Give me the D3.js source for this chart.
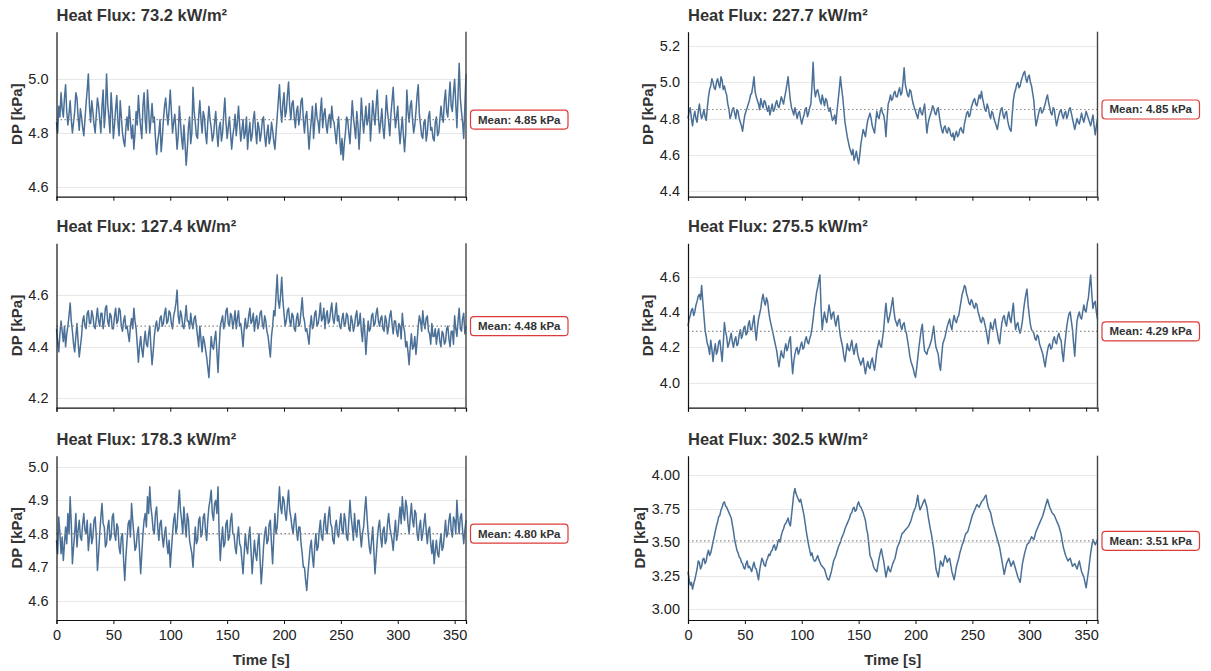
<!DOCTYPE html>
<html>
<head>
<meta charset="utf-8">
<script src="https://cdnjs.cloudflare.com/ajax/libs/d3/7.8.5/d3.min.js"></script>
<style>
  body { margin: 0; background: #fff; }
  svg { display: block; font-family: "Liberation Sans", Arial, sans-serif; }
  .grid line { stroke: #e8e8e8; stroke-width: 1; }
  .title { font-size: 16.5px; font-weight: bold; fill: #333; }
  .axis-label { font-size: 15px; font-weight: bold; fill: #333; }
  .mean-label { font-size: 11.5px; font-weight: bold; fill: #333; }
</style>
</head>
<body>
<div id="chart"></div>
<script>
// heat flux per run [kW/m²] and mean pressure drop [kPa]
const fluxes = [73.2, 127.4, 178.3, 227.7, 275.5, 302.5];
const means = [4.85, 4.48, 4.80, 4.85, 4.29, 3.51];

// DP samples over 0..360 s, one per second
const dp73 = [
  4.84,4.80,4.90,4.86,4.95,4.89,4.86,4.93,4.98,4.88,4.83,4.87,4.92,4.85,4.80,4.84,4.88,4.95,4.93,4.86,
  4.81,4.89,4.86,4.82,4.79,4.85,4.91,4.96,5.02,4.90,4.84,4.92,4.88,4.83,4.80,4.87,4.93,4.90,4.85,4.80,
  4.90,4.96,4.82,4.88,5.02,4.91,4.86,4.80,4.95,4.88,4.78,4.83,4.89,4.94,4.84,4.79,4.92,4.86,4.80,4.77,
  4.75,4.82,4.86,4.81,4.90,4.84,4.78,4.83,4.74,4.80,4.88,4.83,4.94,4.87,4.82,4.78,4.90,4.95,4.85,4.80,
  4.96,4.89,4.80,4.85,4.91,4.84,4.86,4.78,4.72,4.77,4.80,4.85,4.73,4.78,4.85,4.90,4.93,4.87,4.83,4.89,
  4.96,4.88,4.80,4.84,4.87,4.81,4.74,4.79,4.90,4.84,4.78,4.74,4.83,4.76,4.68,4.74,4.82,4.86,4.76,4.80,
  4.97,4.88,4.84,4.79,4.78,4.86,4.92,4.85,4.80,4.88,4.86,4.80,4.76,4.84,4.90,4.85,4.82,4.77,4.79,4.84,
  4.88,4.80,4.75,4.82,4.84,4.77,4.80,4.87,4.93,4.84,4.78,4.82,4.86,4.80,4.74,4.79,4.82,4.87,4.79,4.84,
  4.90,4.83,4.77,4.81,4.85,4.78,4.80,4.86,4.74,4.80,4.84,4.77,4.79,4.85,4.88,4.81,4.76,4.84,4.82,4.77,
  4.80,4.85,4.86,4.79,4.75,4.80,4.83,4.76,4.78,4.84,4.81,4.77,4.74,4.80,4.86,4.92,4.98,4.89,4.84,4.91,
  4.95,4.86,4.88,4.94,4.99,4.90,4.85,4.91,4.92,4.86,4.82,4.88,4.90,4.83,4.86,4.92,4.93,4.85,4.80,4.86,
  4.88,4.81,4.74,4.80,4.85,4.90,4.78,4.84,4.91,4.86,4.84,4.80,4.88,4.93,4.82,4.87,4.89,4.83,4.80,4.85,
  4.87,4.82,4.90,4.85,4.84,4.80,4.76,4.82,4.86,4.78,4.72,4.78,4.70,4.76,4.80,4.86,4.85,4.80,4.76,4.84,
  4.92,4.86,4.82,4.78,4.88,4.83,4.74,4.82,4.93,4.86,4.80,4.85,4.90,4.83,4.85,4.91,4.77,4.84,4.92,4.87,
  4.83,4.90,4.96,4.86,4.80,4.84,4.89,4.82,4.78,4.85,4.94,4.88,4.84,4.79,4.87,4.92,4.97,4.88,4.82,4.86,
  4.90,4.82,4.76,4.81,4.86,4.79,4.73,4.80,4.96,4.88,4.84,4.90,4.92,4.85,4.80,4.83,4.88,4.94,4.98,4.87,
  4.83,4.79,4.78,4.84,4.85,4.77,4.80,4.86,4.88,4.81,4.82,4.78,4.77,4.84,4.86,4.79,4.80,4.85,4.90,4.86,
  4.84,4.92,4.96,4.88,4.86,4.93,4.99,4.90,4.88,4.95,5.00,4.91,4.82,4.94,5.06,4.93,4.88,4.84,4.78,4.90,
  5.02];

const dp127 = [
  4.47,4.42,4.38,4.45,4.50,4.46,4.42,4.48,4.40,4.45,4.48,4.52,4.57,4.50,4.46,4.41,4.38,4.44,4.49,4.42,
  4.36,4.40,4.44,4.50,4.52,4.48,4.47,4.53,4.54,4.49,4.49,4.54,4.52,4.48,4.47,4.51,4.55,4.50,4.48,4.53,
  4.53,4.47,4.50,4.55,4.56,4.50,4.48,4.53,4.52,4.47,4.47,4.52,4.55,4.49,4.50,4.55,4.54,4.48,4.46,4.50,
  4.52,4.47,4.48,4.45,4.42,4.48,4.51,4.47,4.55,4.50,4.47,4.41,4.34,4.40,4.44,4.39,4.36,4.42,4.46,4.41,
  4.40,4.45,4.48,4.40,4.33,4.38,4.44,4.48,4.50,4.46,4.47,4.51,4.52,4.48,4.49,4.53,4.55,4.49,4.50,4.54,
  4.53,4.49,4.47,4.52,4.54,4.57,4.62,4.52,4.49,4.54,4.52,4.48,4.47,4.51,4.56,4.50,4.50,4.47,4.53,4.49,
  4.47,4.51,4.52,4.48,4.44,4.40,4.48,4.43,4.38,4.44,4.42,4.39,4.36,4.32,4.28,4.36,4.44,4.40,4.39,4.43,
  4.46,4.38,4.30,4.40,4.48,4.50,4.52,4.47,4.49,4.54,4.55,4.49,4.48,4.53,4.52,4.47,4.50,4.54,4.47,4.51,
  4.54,4.48,4.49,4.45,4.40,4.47,4.51,4.47,4.48,4.52,4.55,4.49,4.50,4.53,4.46,4.50,4.52,4.47,4.49,4.53,
  4.54,4.49,4.47,4.52,4.50,4.46,4.44,4.40,4.36,4.44,4.48,4.54,4.52,4.60,4.68,4.58,4.55,4.60,4.67,4.58,
  4.53,4.48,4.50,4.54,4.55,4.50,4.48,4.53,4.52,4.47,4.46,4.51,4.53,4.48,4.49,4.54,4.59,4.52,4.50,4.46,
  4.47,4.44,4.41,4.48,4.52,4.47,4.48,4.53,4.54,4.48,4.49,4.52,4.57,4.50,4.51,4.55,4.47,4.52,4.54,4.49,
  4.50,4.54,4.57,4.51,4.49,4.53,4.57,4.50,4.52,4.48,4.47,4.51,4.53,4.48,4.49,4.53,4.52,4.47,4.46,4.52,
  4.50,4.46,4.48,4.52,4.54,4.48,4.49,4.53,4.46,4.42,4.51,4.46,4.37,4.44,4.50,4.46,4.47,4.52,4.53,4.48,
  4.49,4.53,4.55,4.50,4.48,4.51,4.52,4.47,4.46,4.52,4.50,4.45,4.48,4.52,4.54,4.49,4.45,4.50,4.50,4.46,
  4.44,4.49,4.48,4.43,4.53,4.48,4.46,4.40,4.42,4.38,4.33,4.40,4.45,4.39,4.40,4.44,4.37,4.42,4.48,4.52,
  4.50,4.46,4.54,4.49,4.47,4.51,4.52,4.46,4.45,4.41,4.49,4.44,4.44,4.47,4.41,4.45,4.47,4.42,4.40,4.46,
  4.45,4.41,4.42,4.47,4.48,4.43,4.40,4.46,4.46,4.41,4.52,4.47,4.44,4.50,4.55,4.47,4.46,4.51,4.53,4.45,
  4.48];

const dp178 = [
  4.78,4.74,4.85,4.80,4.74,4.79,4.72,4.77,4.82,4.77,4.86,4.80,4.91,4.83,4.71,4.76,4.80,4.86,4.76,4.81,
  4.84,4.79,4.78,4.83,4.86,4.81,4.80,4.84,4.75,4.79,4.83,4.77,4.79,4.84,4.85,4.79,4.69,4.74,4.80,4.85,
  4.89,4.83,4.82,4.76,4.77,4.82,4.84,4.78,4.79,4.85,4.86,4.80,4.78,4.83,4.82,4.76,4.74,4.79,4.80,4.72,
  4.66,4.73,4.78,4.83,4.84,4.79,4.89,4.84,4.80,4.75,4.76,4.80,4.82,4.75,4.68,4.74,4.80,4.84,4.86,4.82,
  4.91,4.86,4.94,4.88,4.85,4.81,4.80,4.86,4.88,4.82,4.78,4.83,4.84,4.79,4.76,4.80,4.82,4.77,4.74,4.78,
  4.70,4.75,4.80,4.84,4.86,4.80,4.82,4.88,4.93,4.87,4.84,4.80,4.88,4.83,4.79,4.86,4.84,4.78,4.76,4.74,
  4.70,4.76,4.82,4.77,4.78,4.84,4.85,4.79,4.80,4.85,4.86,4.81,4.78,4.84,4.88,4.90,4.93,4.86,4.84,4.89,
  4.90,4.86,4.94,4.80,4.72,4.78,4.82,4.76,4.77,4.83,4.84,4.78,4.79,4.84,4.86,4.80,4.80,4.76,4.74,4.79,
  4.82,4.77,4.76,4.72,4.68,4.74,4.80,4.76,4.74,4.79,4.82,4.75,4.68,4.73,4.78,4.74,4.72,4.77,4.80,4.72,
  4.65,4.70,4.76,4.80,4.82,4.77,4.78,4.83,4.84,4.77,4.71,4.79,4.86,4.80,4.82,4.88,4.94,4.88,4.86,4.91,
  4.90,4.86,4.84,4.89,4.93,4.87,4.85,4.82,4.80,4.84,4.86,4.81,4.78,4.82,4.82,4.77,4.74,4.70,4.70,4.66,
  4.63,4.68,4.72,4.76,4.78,4.73,4.70,4.76,4.80,4.75,4.76,4.81,4.84,4.79,4.78,4.83,4.86,4.81,4.80,4.85,
  4.88,4.83,4.82,4.78,4.77,4.82,4.84,4.80,4.79,4.83,4.86,4.81,4.80,4.86,4.84,4.79,4.78,4.84,4.90,4.85,
  4.82,4.78,4.86,4.81,4.79,4.84,4.84,4.80,4.76,4.80,4.82,4.87,4.91,4.85,4.80,4.76,4.74,4.78,4.82,4.75,
  4.68,4.73,4.78,4.82,4.84,4.79,4.76,4.81,4.82,4.77,4.78,4.83,4.86,4.82,4.80,4.78,4.75,4.80,4.84,4.78,
  4.80,4.84,4.88,4.83,4.91,4.86,4.84,4.90,4.88,4.83,4.80,4.85,4.89,4.84,4.82,4.87,4.86,4.80,4.78,4.82,
  4.84,4.78,4.80,4.83,4.86,4.81,4.77,4.81,4.82,4.77,4.74,4.78,4.71,4.75,4.78,4.74,4.73,4.77,4.80,4.75,
  4.76,4.80,4.84,4.79,4.80,4.84,4.86,4.81,4.79,4.85,4.84,4.80,4.90,4.84,4.80,4.85,4.86,4.81,4.77,4.81,
  4.84];

const dp227 = [
  4.80,4.84,4.86,4.80,4.76,4.81,4.84,4.80,4.78,4.84,4.88,4.83,4.80,4.82,4.85,4.81,4.79,4.86,4.92,4.96,
  4.98,5.02,5.00,4.97,4.96,5.00,5.02,4.99,4.97,5.03,5.01,4.96,4.98,4.95,4.93,4.88,4.85,4.80,4.82,4.85,
  4.86,4.83,4.80,4.85,4.84,4.80,4.78,4.76,4.73,4.78,4.82,4.84,4.86,4.88,4.90,4.93,4.94,4.98,5.03,4.95,
  4.92,4.90,4.88,4.85,4.91,4.88,4.86,4.90,4.89,4.86,4.84,4.87,4.82,4.85,4.88,4.84,4.85,4.88,4.90,4.87,
  4.86,4.89,4.92,4.90,4.88,4.92,4.95,4.99,5.03,4.96,4.90,4.86,4.84,4.82,4.86,4.83,4.80,4.83,4.84,4.80,
  4.77,4.80,4.82,4.85,4.86,4.81,4.83,4.86,4.88,4.98,5.11,4.97,4.92,4.95,4.96,4.93,4.90,4.88,4.93,4.90,
  4.87,4.91,4.90,4.86,4.84,4.86,4.82,4.79,4.80,4.82,4.77,4.84,4.90,4.96,5.03,4.97,4.92,4.85,4.78,4.74,
  4.70,4.67,4.64,4.62,4.60,4.63,4.57,4.59,4.62,4.58,4.55,4.60,4.66,4.70,4.74,4.72,4.70,4.75,4.79,4.81,
  4.83,4.80,4.76,4.74,4.72,4.78,4.84,4.81,4.80,4.84,4.86,4.83,4.82,4.78,4.70,4.80,4.88,4.90,4.93,4.90,
  4.91,4.94,4.95,4.92,4.92,4.95,4.97,4.93,4.94,5.00,5.08,4.99,4.96,4.93,4.92,4.96,4.95,4.91,4.88,4.86,
  4.84,4.82,4.80,4.84,4.86,4.83,4.82,4.85,4.88,4.80,4.72,4.77,4.80,4.82,4.84,4.87,4.86,4.83,4.82,4.85,
  4.86,4.81,4.77,4.74,4.72,4.75,4.76,4.73,4.72,4.75,4.74,4.71,4.70,4.72,4.68,4.71,4.73,4.70,4.71,4.74,
  4.75,4.73,4.72,4.77,4.80,4.83,4.84,4.81,4.82,4.86,4.88,4.90,4.91,4.88,4.87,4.90,4.93,4.91,4.95,4.91,
  4.88,4.85,4.84,4.88,4.86,4.82,4.80,4.84,4.83,4.80,4.78,4.76,4.74,4.78,4.82,4.85,4.86,4.82,4.80,4.83,
  4.84,4.79,4.76,4.74,4.73,4.82,4.90,4.94,4.96,4.99,5.00,4.97,4.98,5.01,5.03,5.05,5.06,5.02,5.00,5.03,
  5.04,5.00,4.98,4.94,4.90,4.82,4.76,4.79,4.82,4.85,4.86,4.83,4.84,4.86,4.88,4.91,4.93,4.89,4.86,4.83,
  4.82,4.86,4.85,4.80,4.76,4.79,4.82,4.84,4.85,4.82,4.80,4.83,4.84,4.80,4.82,4.85,4.86,4.83,4.80,4.77,
  4.74,4.77,4.80,4.78,4.77,4.80,4.83,4.80,4.78,4.81,4.84,4.82,4.80,4.78,4.76,4.79,4.82,4.76,4.71,4.76,
  4.80];

const dp275 = [
  4.32,4.36,4.38,4.41,4.42,4.38,4.40,4.44,4.46,4.49,4.50,4.47,4.55,4.46,4.38,4.30,4.26,4.22,4.20,4.16,
  4.24,4.19,4.12,4.18,4.22,4.16,4.18,4.23,4.24,4.18,4.12,4.22,4.34,4.29,4.26,4.20,4.22,4.25,4.28,4.23,
  4.20,4.24,4.26,4.21,4.22,4.27,4.30,4.25,4.27,4.31,4.32,4.27,4.28,4.33,4.35,4.30,4.30,4.34,4.38,4.30,
  4.24,4.31,4.36,4.39,4.42,4.47,4.50,4.46,4.44,4.48,4.46,4.40,4.36,4.33,4.30,4.27,4.24,4.21,4.18,4.13,
  4.09,4.14,4.18,4.15,4.14,4.19,4.22,4.18,4.20,4.24,4.26,4.14,4.05,4.12,4.16,4.19,4.20,4.16,4.18,4.21,
  4.23,4.19,4.20,4.24,4.26,4.23,4.22,4.25,4.27,4.31,4.36,4.42,4.46,4.51,4.54,4.58,4.61,4.42,4.30,4.36,
  4.40,4.36,4.34,4.39,4.44,4.40,4.36,4.39,4.40,4.35,4.32,4.36,4.38,4.31,4.26,4.23,4.20,4.15,4.12,4.17,
  4.22,4.19,4.18,4.21,4.24,4.19,4.16,4.20,4.22,4.17,4.14,4.12,4.10,4.12,4.14,4.09,4.05,4.09,4.12,4.09,
  4.08,4.12,4.14,4.10,4.07,4.12,4.18,4.21,4.24,4.21,4.20,4.25,4.30,4.38,4.45,4.38,4.34,4.37,4.40,4.44,
  4.48,4.41,4.36,4.34,4.32,4.35,4.36,4.32,4.30,4.33,4.34,4.30,4.28,4.24,4.20,4.15,4.12,4.10,4.08,4.05,
  4.03,4.08,4.14,4.20,4.25,4.30,4.33,4.24,4.18,4.17,4.16,4.19,4.20,4.22,4.24,4.28,4.32,4.25,4.20,4.18,
  4.16,4.10,4.07,4.15,4.22,4.24,4.26,4.29,4.32,4.34,4.36,4.32,4.30,4.35,4.38,4.35,4.34,4.37,4.38,4.42,
  4.46,4.50,4.52,4.55,4.54,4.50,4.48,4.45,4.44,4.47,4.46,4.43,4.42,4.45,4.44,4.40,4.38,4.35,4.34,4.37,
  4.36,4.33,4.30,4.26,4.22,4.28,4.34,4.31,4.30,4.34,4.36,4.31,4.28,4.24,4.22,4.29,4.34,4.37,4.38,4.34,
  4.32,4.37,4.40,4.36,4.34,4.40,4.45,4.36,4.30,4.33,4.34,4.30,4.28,4.31,4.35,4.41,4.46,4.50,4.53,4.44,
  4.38,4.33,4.30,4.29,4.28,4.25,4.24,4.27,4.26,4.22,4.20,4.18,4.16,4.12,4.09,4.14,4.18,4.21,4.22,4.19,
  4.20,4.24,4.26,4.23,4.22,4.26,4.28,4.25,4.24,4.17,4.12,4.20,4.26,4.32,4.36,4.39,4.40,4.35,4.30,4.22,
  4.15,4.26,4.35,4.38,4.40,4.37,4.36,4.40,4.44,4.41,4.40,4.45,4.48,4.55,4.61,4.50,4.42,4.45,4.46,4.40,
  4.36];

const dp302 = [
  3.28,3.22,3.18,3.20,3.15,3.19,3.22,3.26,3.30,3.36,3.35,3.30,3.32,3.37,3.38,3.34,3.36,3.41,3.44,3.40,
  3.42,3.46,3.50,3.54,3.58,3.62,3.65,3.69,3.70,3.74,3.76,3.79,3.80,3.77,3.76,3.74,3.72,3.70,3.68,3.63,
  3.58,3.52,3.48,3.44,3.42,3.39,3.38,3.35,3.34,3.31,3.30,3.34,3.36,3.31,3.32,3.30,3.28,3.32,3.35,3.31,
  3.30,3.26,3.22,3.29,3.34,3.38,3.36,3.33,3.32,3.36,3.38,3.41,3.40,3.43,3.44,3.47,3.48,3.44,3.46,3.50,
  3.52,3.50,3.55,3.58,3.60,3.63,3.64,3.66,3.68,3.64,3.62,3.70,3.78,3.86,3.90,3.86,3.84,3.82,3.80,3.82,
  3.78,3.74,3.70,3.64,3.58,3.53,3.48,3.44,3.40,3.42,3.38,3.36,3.36,3.38,3.40,3.37,3.35,3.33,3.32,3.31,
  3.30,3.27,3.24,3.22,3.22,3.25,3.28,3.32,3.36,3.38,3.40,3.43,3.46,3.48,3.50,3.53,3.55,3.57,3.60,3.62,
  3.64,3.66,3.68,3.71,3.72,3.75,3.76,3.73,3.74,3.78,3.80,3.77,3.76,3.74,3.72,3.69,3.66,3.60,3.56,3.48,
  3.40,3.38,3.36,3.32,3.30,3.29,3.28,3.33,3.38,3.42,3.45,3.40,3.36,3.30,3.24,3.28,3.32,3.29,3.28,3.31,
  3.34,3.36,3.38,3.42,3.46,3.48,3.50,3.53,3.56,3.57,3.58,3.59,3.60,3.61,3.62,3.64,3.66,3.69,3.72,3.74,
  3.76,3.80,3.85,3.78,3.74,3.76,3.78,3.80,3.82,3.79,3.76,3.70,3.65,3.60,3.56,3.50,3.45,3.38,3.30,3.27,
  3.24,3.30,3.36,3.34,3.32,3.36,3.40,3.38,3.35,3.37,3.38,3.33,3.28,3.25,3.22,3.27,3.32,3.35,3.38,3.42,
  3.45,3.48,3.50,3.53,3.56,3.57,3.58,3.61,3.64,3.67,3.70,3.72,3.74,3.76,3.78,3.77,3.76,3.78,3.80,3.81,
  3.82,3.84,3.85,3.80,3.76,3.74,3.72,3.68,3.64,3.61,3.58,3.55,3.52,3.49,3.46,3.41,3.36,3.31,3.26,3.30,
  3.34,3.36,3.38,3.35,3.32,3.34,3.36,3.33,3.30,3.27,3.24,3.22,3.20,3.27,3.34,3.38,3.42,3.45,3.48,3.49,
  3.50,3.52,3.54,3.53,3.52,3.55,3.58,3.60,3.62,3.64,3.66,3.68,3.70,3.73,3.76,3.79,3.82,3.79,3.76,3.74,
  3.72,3.71,3.70,3.68,3.66,3.64,3.62,3.59,3.56,3.51,3.46,3.43,3.40,3.38,3.36,3.37,3.38,3.35,3.32,3.33,
  3.34,3.32,3.30,3.33,3.36,3.32,3.28,3.26,3.24,3.20,3.16,3.22,3.28,3.35,3.42,3.47,3.52,3.50,3.48,3.50,
  3.52];

const series = [dp73, dp127, dp178, dp227, dp275, dp302];

// y tick labels per panel
const yTicks = [
  [4.6, 4.8, 5.0],
  [4.2, 4.4, 4.6],
  [4.6, 4.7, 4.8, 4.9, 5.0],
  [4.4, 4.6, 4.8, 5.0, 5.2],
  [4.0, 4.2, 4.4, 4.6],
  [3.00, 3.25, 3.50, 3.75, 4.00]
];
const yFormats = ['.1f', '.1f', '.1f', '.1f', '.1f', '.2f'];
const xTicks = [0, 50, 100, 150, 200, 250, 300, 350];

// axis ranges per panel
const yDomains = [
  [4.563, 5.177],
  [4.163, 4.802],
  [4.542, 5.033],
  [4.369, 5.279],
  [3.858, 4.789],
  [2.920, 4.144]
];

const width = 1211, height = 671;
const cols = [[56.5, 466], [688, 1097.5]];
const rows = [[31.7, 196.7], [243.3, 407.7], [455.7, 620]];
const lineColor = '#4a7097';
const fontFamily = '"Liberation Sans", Arial, sans-serif';

const svg = d3.select('#chart')
  .append('svg')
  .attr('width', width)
  .attr('height', height);

series.forEach((values, i) => {
  const col = Math.floor(i / 3);
  const row = i % 3;
  const [x0, x1] = cols[col];
  const [y0, y1] = rows[row];

  const x = d3.scaleLinear().domain([0, 360]).range([x0, x1]);
  const y = d3.scaleLinear().domain(yDomains[i]).range([y1, y0]);
  const n = values.length;
  const data = values.map((v, k) => ({ t: k * 360 / (n - 1), v }));

  const g = svg.append('g');

  // horizontal grid
  g.append('g')
    .attr('class', 'grid')
    .selectAll('line')
    .data(yTicks[i])
    .join('line')
    .attr('x1', x0)
    .attr('x2', x1)
    .attr('y1', d => Math.round(y(d)) + 0.5)
    .attr('y2', d => Math.round(y(d)) + 0.5);

  // series
  g.append('path')
    .datum(data)
    .attr('fill', 'none')
    .attr('stroke', lineColor)
    .attr('stroke-width', 1.5)
    .attr('stroke-linejoin', 'round')
    .attr('d', d3.line().x(d => x(d.t)).y(d => y(d.v)));

  // mean line
  g.append('line')
    .attr('x1', x0)
    .attr('x2', x1)
    .attr('y1', y(means[i]))
    .attr('y2', y(means[i]))
    .attr('stroke', '#8a8a8a')
    .attr('stroke-width', 1.2)
    .attr('stroke-dasharray', '1.5,2.5');

  // axes
  const yAxis = g.append('g')
    .attr('transform', `translate(${x0},0)`)
    .call(d3.axisLeft(y).tickValues(yTicks[i]).tickFormat(d3.format(yFormats[i])).tickSize(0).tickPadding(8));
  yAxis.attr('font-family', fontFamily).attr('font-size', 14.5);
  yAxis.selectAll('.tick text').attr('fill', '#222');
  yAxis.select('.domain').attr('stroke', '#111').attr('stroke-width', 1.2);

  const xAxis = g.append('g')
    .attr('transform', `translate(0,${y1})`)
    .call(d3.axisBottom(x).tickValues(xTicks).tickSize(4).tickPadding(6));
  xAxis.attr('font-family', fontFamily).attr('font-size', 14.5);
  xAxis.selectAll('.tick text').attr('fill', '#222');
  xAxis.select('.domain').attr('stroke', '#111').attr('stroke-width', 1.2);
  xAxis.selectAll('.tick line').attr('stroke', '#111');
  if (row < 2) xAxis.selectAll('.tick text').remove();

  // right spine
  g.append('line')
    .attr('x1', x1).attr('x2', x1)
    .attr('y1', y0).attr('y2', y1)
    .attr('stroke', '#444')
    .attr('stroke-width', 1.4);

  g.append('text')
    .attr('class', 'title')
    .attr('x', x0)
    .attr('y', y0 - 11)
    .text(`Heat Flux: ${fluxes[i]} kW/m²`);

  const labelShift = yFormats[i] === '.2f' ? 43 : 35;
  g.append('text')
    .attr('class', 'axis-label')
    .attr('transform', `translate(${x0 - labelShift},${(y0 + y1) / 2}) rotate(-90)`)
    .attr('text-anchor', 'middle')
    .text('DP [kPa]');

  if (row === 2) {
    g.append('text')
      .attr('class', 'axis-label')
      .attr('x', (x0 + x1) / 2)
      .attr('y', 665)
      .attr('text-anchor', 'middle')
      .text('Time [s]');
  }

  // mean badge
  const by = y(means[i]);
  const badge = g.append('g').attr('transform', `translate(${x1 + 4.5},${by})`);
  badge.append('rect')
    .attr('x', 0)
    .attr('y', -9.5)
    .attr('width', 97.5)
    .attr('height', 19)
    .attr('rx', 3.5)
    .attr('fill', '#fff')
    .attr('stroke', '#dd3b3b')
    .attr('stroke-width', 1.2);
  badge.append('text')
    .attr('class', 'mean-label')
    .attr('x', 48.75)
    .attr('y', 4)
    .attr('text-anchor', 'middle')
    .text(`Mean: ${means[i].toFixed(2)} kPa`);
});
</script>
</body>
</html>
